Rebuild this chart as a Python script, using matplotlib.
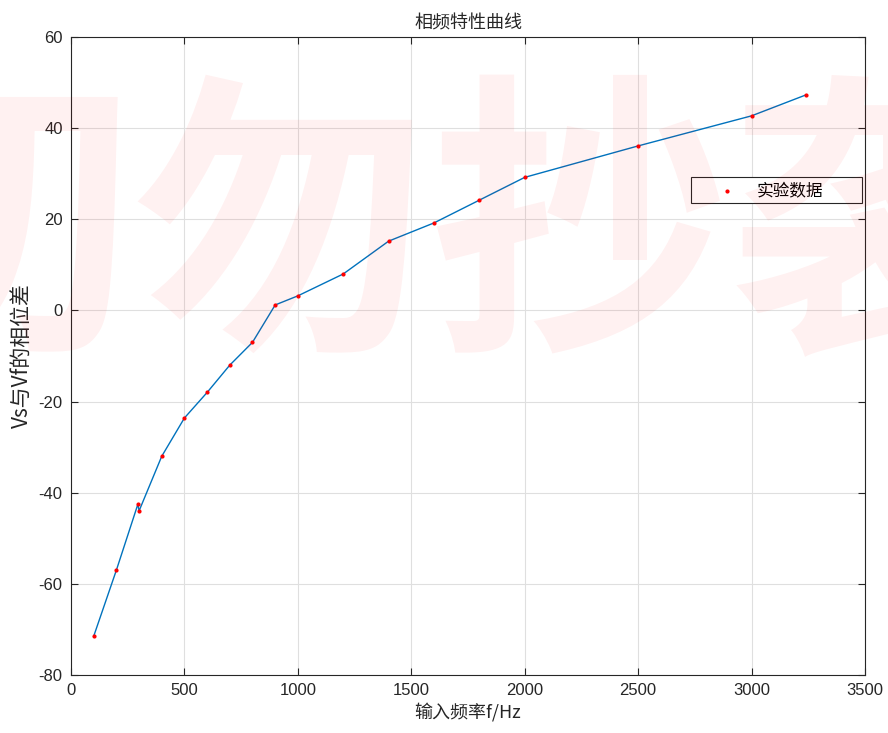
import matplotlib
matplotlib.use("Agg")
import matplotlib.pyplot as plt
from matplotlib.patches import Rectangle

plt.rcParams['font.family'] = ['Liberation Sans', 'Noto Sans CJK SC', 'DejaVu Sans']
plt.rcParams['axes.unicode_minus'] = False

freq = [100, 200, 295, 300, 400, 500, 600, 700, 800, 900, 1000, 1200, 1400,
        1600, 1800, 2000, 2500, 3000, 3240]
phase = [-71.5, -57, -42.5, -44, -32, -23.6, -18, -12, -7, 1.2, 3.2, 8, 15.2,
         19.2, 24.2, 29.2, 36.1, 42.7, 47.3]

x_ticks = [0, 500, 1000, 1500, 2000, 2500, 3000, 3500]
y_ticks = [-80, -60, -40, -20, 0, 20, 40, 60]

title = "相频特性曲线"
xlabel = "输入频率f/Hz"
ylabel = "Vs与Vf的相位差"
legend_label = "实验数据"
watermark = "切勿抄袭"

fig = plt.figure(figsize=(8.88, 7.33), dpi=100)
ax = fig.add_axes([71/888, 1-675/733, (865-71)/888, (675-37)/733])

ax.plot(freq, phase, color='#0072BD', linewidth=1.0, zorder=3)
ax.plot(freq, phase, linestyle='none', marker='.', color='#FF0000',
        markersize=4, label=legend_label, zorder=4)

ax.set_xlim(0, 3500)
ax.set_ylim(-80, 60)
ax.set_xticks(x_ticks)
ax.set_yticks(y_ticks)
ax.tick_params(direction='in', top=True, right=True, length=5, width=0.8,
               labelsize=12, colors='#262626', pad=6)
for s in ax.spines.values():
    s.set_color('#262626')
    s.set_linewidth(0.8)
ax.grid(True, color='#DFDFDF', linewidth=0.8)
ax.set_axisbelow(True)

cjk = ['Noto Sans CJK SC', 'Liberation Sans']
ax.set_title(title, fontsize=13, family=cjk, color='#262626', pad=6)
ax.set_xlabel(xlabel, fontsize=13, family=cjk, color='#262626', labelpad=4)
ax.set_ylabel(ylabel, fontsize=15, family=cjk, color='#262626', labelpad=4)

# legend box
x0 = (691-71)/794
x1 = (862-71)/794
y1 = (675-177)/638
y0 = (675-203)/638
ax.add_patch(Rectangle((x0, y0), x1-x0, y1-y0, transform=ax.transAxes,
                       facecolor='white', edgecolor='#262626', linewidth=0.8,
                       zorder=5))
leg = ax.legend(loc='upper left', bbox_to_anchor=(0.781, 0.781),
                prop={'family': cjk, 'size': 12}, frameon=False,
                borderpad=0.4, handlelength=3.5, handletextpad=0.05,
                borderaxespad=0)
leg.set_zorder(6)

fig.text(430/888, 1-240/733, watermark, fontsize=215, family=cjk,
         fontweight='bold', color='#FF0000', alpha=0.055,
         ha='center', va='center', zorder=10)

fig.savefig('out.png', dpi=100)
